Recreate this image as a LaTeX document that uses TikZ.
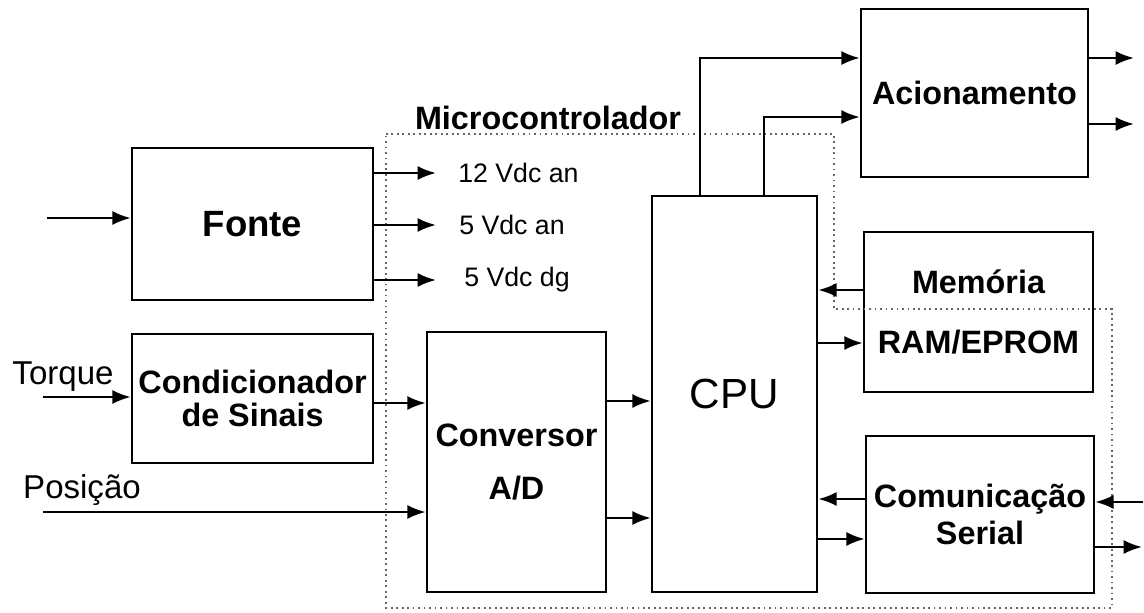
\documentclass[tikz,border=0pt]{standalone}
\usepackage{fontspec}
\setmainfont{Liberation Sans}
\usetikzlibrary{arrows.meta}

\begin{document}
\begin{tikzpicture}[x=0.025cm,y=-0.025cm,>={Latex[length=13pt,width=10pt]},line width=1.8pt,
  blk/.style 2 args={draw,align=center,font=\bfseries\fontsize{23}{27}\selectfont,
    minimum width=#1*0.025cm,minimum height=#2*0.025cm,inner sep=0pt},
  lbl/.style={font=\fontsize{23.5}{27}\selectfont,inner sep=0pt},
  vdc/.style={font=\fontsize{19}{22}\selectfont,anchor=west,inner sep=0pt},
  mcu/.style={gray!80!black,line width=1.3pt,dash pattern=on 1.3pt off 2.6pt}]
  \useasboundingbox (0,0) rectangle (1144,612);
  \node[blk={241}{152},font=\bfseries\fontsize{26}{30}\selectfont] (fonte) at (252.5,224) {Fonte};
  \node[blk={241}{129}] (cond) at (252.5,398.5) {Condicionador\\[-3pt]de Sinais};
  \node[blk={179}{260}] (conv) at (516.5,462) {Conversor\\[10.6pt]A/D};
  \node[blk={165}{396},font=\fontsize{30}{34}\selectfont] (cpu) at (734.5,394) {CPU};
  \node[blk={227}{168}] (acion) at (974.5,93) {Acionamento};
  \node[blk={229}{160}] (mem) at (978.5,312) {Memória\\[15.5pt]RAM/EPROM};
  \node[blk={228}{157}] (com) at (980,514.5) {Comunicação\\[-1pt]Serial};
  \node[lbl] (torque) at (63,377) {Torque};
  \node[lbl] (posicao) at (82,490) {Posição};
  \node[lbl,font=\bfseries\fontsize{23}{27}\selectfont] (mcutxt) at (548,118) {Microcontrolador};
  \node[vdc] (v12) at (457,173) {12 Vdc an};
  \node[vdc] (v5a) at (458,225) {5 Vdc an};
  \node[vdc] (v5d) at (463,280) {5 Vdc dg};
  \draw[mcu] (386,134) -- (834,134) -- (834,309) -- (1112,309) -- (1112,608) -- (386,608) -- cycle;
  \coordinate (fin) at (47,218);
  \draw[->] (fin) -- (fin -| fonte.west);
  \foreach \v in {v12,v5a,v5d} \draw[->] (fonte.east |- \v) -- (436,0 |- \v);
  \coordinate (tin) at (43,397);
  \draw[->] (tin) -- (tin -| cond.west);
  \draw[->] (cond.east |- 0,403) -- (conv.west |- 0,403);
  \coordinate (pin) at (43,512);
  \draw[->] (pin) -- (pin -| conv.west);
  \foreach \y in {401,518} \draw[->] (conv.east |- 0,\y) -- (cpu.west |- 0,\y);
  \draw[->] (cpu.north -| 700,0) |- (acion.west |- 0,58);
  \draw[->] (cpu.north -| 764,0) |- (acion.west |- 0,117);
  \foreach \y in {58,124} \draw[->] (acion.east |- 0,\y) -- (1134,\y);
  \draw[->] (mem.west |- 0,290) -- (cpu.east |- 0,290);
  \draw[->] (cpu.east |- 0,343) -- (mem.west |- 0,343);
  \draw[->] (com.west |- 0,499) -- (cpu.east |- 0,499);
  \draw[->] (cpu.east |- 0,539) -- (com.west |- 0,539);
  \draw[->] (1143,502) -- (com.east |- 0,502);
  \draw[->] (com.east |- 0,547) -- (1142,547);
\end{tikzpicture}
\end{document}
